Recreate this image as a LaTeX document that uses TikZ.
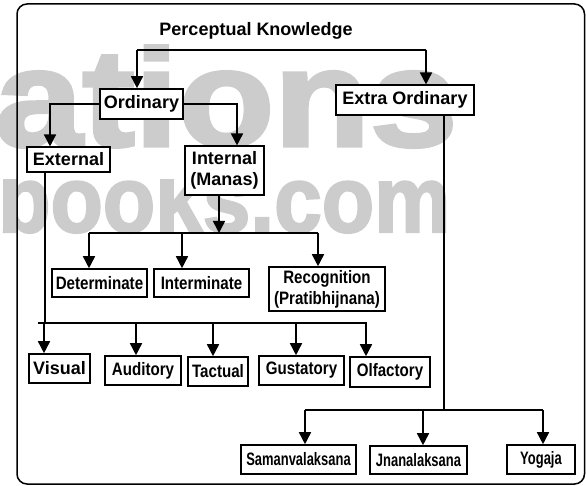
\documentclass[tikz,border=0pt]{standalone}
\usepackage{fontspec}
\setmainfont{Liberation Sans}
\newfontfamily\narrowfont[FakeStretch=0.84]{Liberation Sans}
\newfontfamily\slimfont[FakeStretch=0.72]{Liberation Sans}
\newfontfamily\wmfont[FakeBold=2.5]{Liberation Sans Bold}
\usetikzlibrary{arrows.meta,positioning}
\definecolor{wmgray}{gray}{0.8}
\tikzset{
  kbox/.style={draw,fill=white,line width=1.6pt,inner sep=0pt,align=center,
    font=\fontsize{18}{21}\selectfont\bfseries},
  thinbox/.style={kbox,line width=1.1pt},
  conn/.style={line width=1.6pt},
  arr/.style={conn,-{Triangle[width=12pt,length=12pt]}}
}

\begin{document}
\begin{tikzpicture}[x=1pt,y=-1pt]
\useasboundingbox (0,0) rectangle (586,486);
% watermark
\node[anchor=base west,inner sep=0pt,text=wmgray] (wma) at (-5,146) {\resizebox{462pt}{100pt}{\wmfont ations}};
\begin{scope}
\clip (0,180) rectangle (586,250);
\node[anchor=base west,inner sep=0pt,text=wmgray] (wmb) at (-2,232) {\resizebox{452pt}{68pt}{\wmfont books.com}};
\end{scope}
% frame
\draw[line width=1.5pt,rounded corners=10pt] (17,4) rectangle (584.5,484);

\node[font=\fontsize{18}{21}\selectfont\bfseries] (title) at (256,31) {Perceptual Knowledge};
\node[kbox,minimum width=83pt,minimum height=30pt] (ord) at (141.5,104) {Ordinary};
\node[thinbox,minimum width=138pt,minimum height=30pt] (eord) at (405,100) {Extra Ordinary};
\node[thinbox,minimum width=83pt,minimum height=25pt] (extl) at (68.5,159.5) {External};
\node[thinbox,minimum width=79pt,minimum height=49pt] (int) at (224.5,170.5) {Internal\\(Manas)};
% internal branch
\node[kbox,minimum width=95pt,minimum height=28pt] (det) at (99.5,283) {\narrowfont Determinate};
\node[kbox,minimum width=95pt,minimum height=28pt] (intm) at (201.5,283) {\narrowfont Interminate};
\node[kbox,minimum width=116pt,minimum height=44pt] (rec) at (327,289) {\narrowfont Recognition\\\narrowfont(Pratibhijnana)};
% external branch
\node[kbox,minimum width=61pt,minimum height=29pt] (vis) at (59.5,368.5) {Visual};
\node[kbox,minimum width=76pt,minimum height=29pt] (aud) at (143,370.5) {\narrowfont Auditory};
\node[kbox,minimum width=60pt,minimum height=29pt] (tac) at (218,371.5) {\narrowfont Tactual};
\node[kbox,minimum width=85pt,minimum height=29pt] (gus) at (301.5,370.5) {\narrowfont Gustatory};
\node[kbox,minimum width=80pt,minimum height=30pt] (olf) at (390,372) {\narrowfont Olfactory};
% extra ordinary branch
\node[kbox,minimum width=115pt,minimum height=29pt] (sam) at (298.5,459.5) {\slimfont Samanvalaksana};
\node[kbox,minimum width=97pt,minimum height=28pt] (jna) at (418.5,460) {\slimfont Jnanalaksana};
\node[kbox,minimum width=68pt,minimum height=29pt] (yog) at (541,459.5) {\slimfont Yogaja};

% top split
\coordinate (k1) at (137,50);
\coordinate (k2) at (426,50);
\draw[conn] (k1) -- (k2);
\draw[arr] (k1) -- (k1 |- ord.north);
\draw[arr] (k2) -- (k2 |- eord.north);
% ordinary
\draw[arr] (ord.west) -| ([xshift=-18.5pt]extl.north);
\draw[arr] (ord.east) -| ([xshift=12.5pt]int.north);
% manas
\coordinate (mv) at (219,233);
\coordinate (m1) at (89,233);
\coordinate (m2) at (182,233);
\coordinate (m3) at (318,233);
\draw[arr] (mv |- int.south) -- (mv);
\draw[conn] (m1) -- (m3);
\draw[arr] (m1) -- (m1 |- det.north);
\draw[arr] (m2) -- (m2 |- intm.north);
\draw[arr] (m3) -- (m3 |- rec.north);
% senses
\coordinate (sv) at (45,323);
\coordinate (sl) at (38,323);
\coordinate (sr) at (367,323);
\draw[line width=1.1pt] (sv |- extl.south) -- (sv);
\draw[conn] (sl) -- (sr);
\foreach \x/\n in {44/vis,136/aud,213/tac,296/gus,366/olf}{
  \coordinate (t\n) at (\x,323);
  \draw[arr] (t\n) -- (t\n |- \n.north);
}
% extra ordinary
\coordinate (yv) at (444,410);
\coordinate (y1) at (305,410);
\coordinate (y2) at (423,410);
\coordinate (y3) at (543,410);
\draw[line width=1.4pt] (yv |- eord.south) -- (yv);
\draw[conn] (y1) -- (y3);
\draw[arr] (y1) -- (y1 |- sam.north);
\draw[arr] (y2) -- (y2 |- jna.north);
\draw[arr] (y3) -- (y3 |- yog.north);
\end{tikzpicture}
\end{document}
